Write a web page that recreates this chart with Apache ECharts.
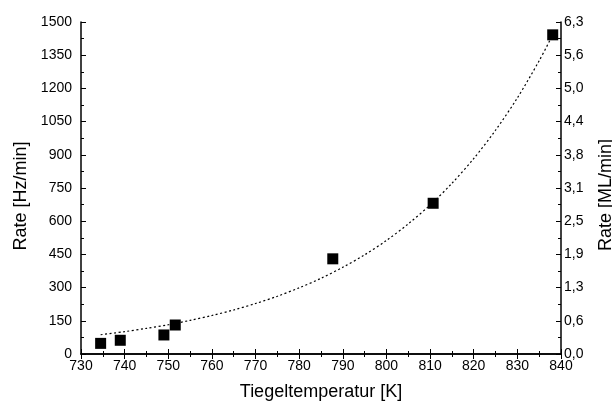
<!DOCTYPE html>
<html>
<head>
<meta charset="utf-8">
<script src="https://cdn.jsdelivr.net/npm/echarts@6/dist/echarts.min.js"></script>
<style>
  html, body { margin: 0; padding: 0; background: #fff; }
  #chart { width: 612px; height: 405px; }
</style>
</head>
<body>
<div id="chart"></div>
<script>
// Measured rates versus crucible temperature
const temperatures = [734.5, 739.0, 749.0, 751.6, 787.7, 810.7, 838.1];
const rates = [48, 62, 86, 131, 430, 681, 1442];

// Exponential fit curve, sampled every 5 K
const fitTemperatures = [734.5, 740, 745, 750, 755, 760, 765, 770, 775, 780, 785, 790,
  795, 800, 805, 810, 815, 820, 825, 830, 835, 838];
const fitRates = [87, 101, 116, 132, 152, 174, 199, 228, 261, 299, 342, 392,
  448, 513, 588, 673, 771, 883, 1011, 1157, 1325, 1438];

// Right-hand axis labels (monolayers per minute)
const mlLabels = ['0,0', '0,6', '1,3', '1,9', '2,5', '3,1', '3,8', '4,4', '5,0', '5,6', '6,3'];

const FONT = "'Liberation Sans', Arial, sans-serif";
const axisLine = { show: true, lineStyle: { color: '#000', width: 1.5 } };
const tick = { show: true, inside: true, length: 5, lineStyle: { color: '#000', width: 1 } };
const minor = { show: true, splitNumber: 2, length: 3, lineStyle: { color: '#000', width: 1 } };

const chart = echarts.init(document.getElementById('chart'));
chart.setOption({
  animation: false,
  backgroundColor: '#fff',
  grid: { left: 81, top: 22, width: 480, height: 332, outerBoundsMode: 'none', containLabel: false },
  xAxis: [
    {
      type: 'value', position: 'bottom', min: 730, max: 840, interval: 10,
      axisLine, axisTick: tick, minorTick: minor, splitLine: { show: false },
      axisLabel: { color: '#000', fontFamily: FONT, fontSize: 14, margin: 5, formatter: v => String(v) },
      name: 'Tiegeltemperatur [K]', nameLocation: 'middle', nameGap: 29,
      nameTextStyle: { color: '#000', fontFamily: FONT, fontSize: 18 }
    },
    {
      type: 'value', position: 'top', min: 730, max: 840, interval: 10,
      axisLine, axisTick: tick, minorTick: minor, splitLine: { show: false },
      axisLabel: { show: false }
    }
  ],
  yAxis: [
    {
      type: 'value', position: 'left', min: 0, max: 1500, interval: 150,
      axisLine, axisTick: tick, minorTick: minor, splitLine: { show: false },
      axisLabel: { color: '#000', fontFamily: FONT, fontSize: 14, margin: 9, formatter: v => String(v) },
      name: 'Rate [Hz/min]', nameLocation: 'middle', nameGap: 45,
      nameTextStyle: { color: '#000', fontFamily: FONT, fontSize: 18, padding: [0, 16, 0, 0] }
    },
    {
      type: 'value', position: 'right', min: 0, max: 1500, interval: 150,
      axisLine, axisTick: tick, minorTick: minor, splitLine: { show: false },
      axisLabel: {
        color: '#000', fontFamily: FONT, fontSize: 14, margin: 3,
        formatter: v => mlLabels[Math.round(v / 150)]
      },
      name: 'Rate [ML/min]', nameLocation: 'middle', nameGap: 36,
      nameTextStyle: { color: '#000', fontFamily: FONT, fontSize: 18, padding: [0, 14, 0, 0] }
    }
  ],
  series: [
    {
      type: 'line',
      data: fitTemperatures.map((t, i) => [t, fitRates[i]]),
      showSymbol: false, smooth: 0.3,
      lineStyle: { color: '#000', width: 1.2, type: [2, 2.5] },
      z: 2
    },
    {
      type: 'scatter',
      data: temperatures.map((t, i) => [t, rates[i]]),
      symbol: 'rect', symbolSize: 11,
      itemStyle: { color: '#000', opacity: 1 },
      z: 3
    }
  ]
});
</script>
</body>
</html>
